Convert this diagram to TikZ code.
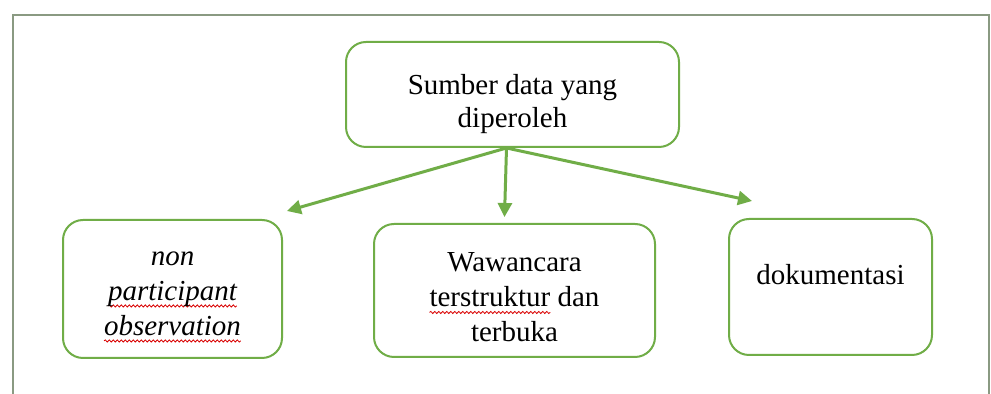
\documentclass[tikz,border=0pt]{standalone}
\usepackage{fontspec}
\setmainfont{Liberation Serif}
\usetikzlibrary{arrows.meta,positioning,calc,decorations.pathmorphing}
\definecolor{boxgreen}{HTML}{70AD47}
\definecolor{framegray}{HTML}{8A9A82}
\newsavebox{\spellbox}
% red wavy spell-check underline below a word
\newcommand{\spellmark}[1]{\sbox{\spellbox}{#1}%
  \tikz[baseline=0pt]{\useasboundingbox (0,0);
    \draw[overlay, red!85!black, line width=0.4pt, sharp corners, decorate,
      decoration={snake, amplitude=0.55pt, segment length=2pt}]
      (0,-2.8pt) -- (\wd\spellbox,-2.8pt);}%
  \usebox{\spellbox}}
% invisible strut that pushes the text block down
\newcommand{\topgap}[1]{\rule{0pt}{#1}}

\begin{document}
\begin{tikzpicture}[x=0.5pt, y=-0.5pt,
    boxnode/.style={draw=boxgreen, line width=1pt, rounded corners=10pt,
      align=center, inner sep=0pt, font=\fontsize{14.5}{17}\selectfont},
    arrowline/.style={draw=boxgreen, line width=1.5pt,
      -{Triangle[length=7pt, width=7pt]}}]
    \useasboundingbox (0,0) rectangle (991,394);
    \fill [white] (0,0) rectangle (991,394);

    % Frame
    \draw [framegray, line width=0.8pt] (13,394) -- (13,15) -- (989,15) -- (989,394);

    % Boxes
    \node [boxnode, minimum width=166.5pt, minimum height=52.5pt,
      font=\fontsize{14.5}{16.5}\selectfont] (source) at (512.5,94.5)
      {\topgap{20pt}Sumber data yang\\diperoleh};
    \node [boxnode, minimum width=109.5pt, minimum height=69pt,
      font=\fontsize{14.5}{17.5}\selectfont\itshape] (observe) at (172.5,289)
      {\topgap{11.5pt}non\\\spellmark{participant}\\\spellmark{observation}};
    \node [boxnode, minimum width=140.5pt, minimum height=66.5pt,
      font=\fontsize{14.5}{17.5}\selectfont] (interview) at (514.5,290.5)
      {\topgap{16.5pt}Wawancara\\\spellmark{terstruktur} dan\\terbuka};
    \node [boxnode, minimum width=101.5pt, minimum height=68pt] (document) at (830.5,287)
      {\topgap{15pt}dokumentasi\\\mbox{}};

    % Arrows
    \coordinate (split) at ([xshift=-3pt]source.south);
    \coordinate (tipA) at ([xshift=2pt, yshift=4pt]observe.north east);
    \coordinate (tipB) at ([xshift=-5pt, yshift=3pt]interview.north);
    \coordinate (tipC) at ([xshift=12pt, yshift=8.5pt]document.north west);
    \draw [arrowline] (split) -- (tipA);
    \draw [arrowline] (split) -- (tipB);
    \draw [arrowline] (split) -- (tipC);
\end{tikzpicture}
\end{document}
